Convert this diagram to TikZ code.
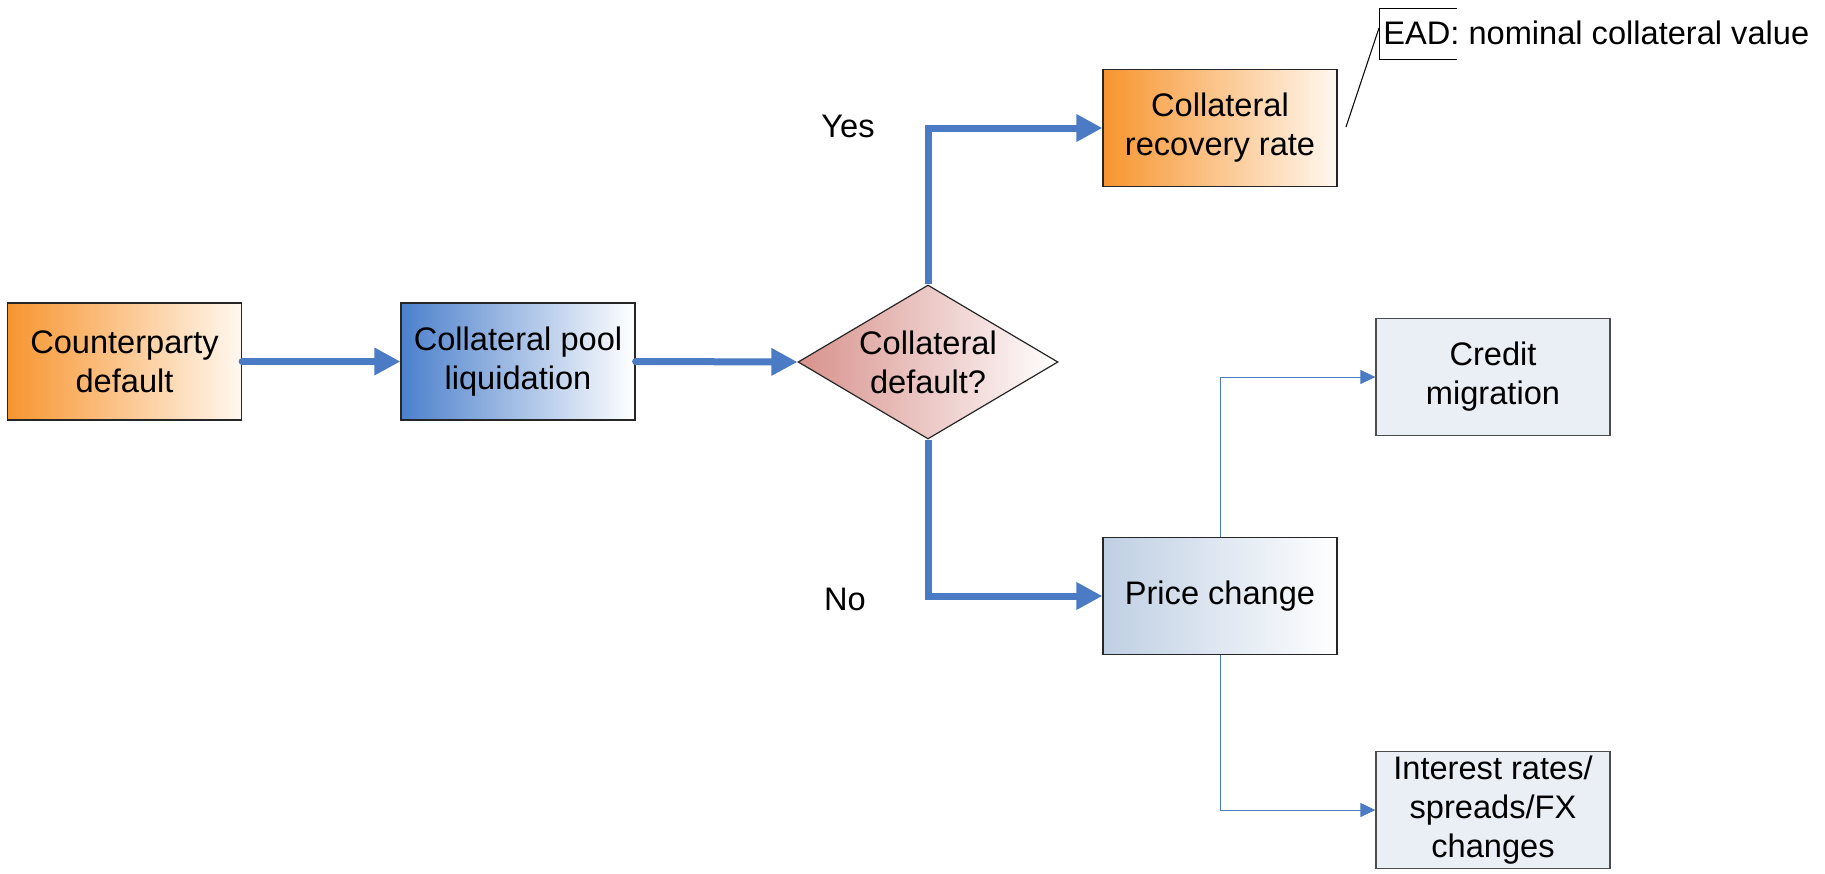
\documentclass[tikz,border=0pt]{standalone}
\usepackage{fontspec}
\setmainfont{Liberation Sans}
\usetikzlibrary{shapes.geometric,arrows.meta}
\definecolor{flowblue}{HTML}{4A7BC4}
\definecolor{orangeL}{HTML}{F7952F}
\definecolor{orangeR}{HTML}{FFF8F0}
\definecolor{poolL}{HTML}{4C80CC}
\definecolor{diamL}{HTML}{D8928C}
\definecolor{priceL}{HTML}{BFCFE3}
\definecolor{lightbox}{HTML}{EAEEF5}
\tikzset{
  boxbase/.style={rectangle, draw=black!85, line width=0.6pt, minimum width=117pt, minimum height=58.5pt, inner sep=2pt, align=center, font=\fontsize{16.3}{19.5}\selectfont},
  orangebox/.style={boxbase, left color=orangeL, right color=orangeR},
  poolbox/.style={boxbase, left color=poolL, right color=white},
  pricebox/.style={boxbase, left color=priceL, right color=white},
  flatbox/.style={boxbase, draw=black!70, fill=lightbox},
  decision/.style={diamond, draw=black!85, line width=0.6pt, left color=diamL, right color=white, minimum width=130pt, minimum height=77pt, inner sep=0pt, aspect=1.69, align=center, font=\fontsize{16.3}{19.5}\selectfont},
  thickflow/.style={draw=flowblue, line width=3.5pt, line cap=round, -{Triangle[length=13pt,width=13pt]}},
  thinflow/.style={draw=flowblue, line width=0.5pt, -{Triangle[length=7.5pt,width=7pt]}},
  lbl/.style={font=\fontsize{16.3}{19.5}\selectfont, inner sep=0pt}
}
\begin{document}
\begin{tikzpicture}[x=0.5pt,y=-0.5pt]
\useasboundingbox (0,0) rectangle (1825,873);
\node[orangebox] (cp) at (124.5,361.5) {Counterparty\\default};
\node[poolbox] (pool) at (518,361.5) {Collateral pool\\liquidation};
\node[decision] (diam) at (928,362) {Collateral\\default?};
\node[orangebox] (recov) at (1220,128) {Collateral\\recovery rate};
\node[pricebox] (price) at (1220,596) {Price change};
\node[flatbox] (credit) at (1493,377) {Credit\\migration};
\node[flatbox] (inter) at (1493,810) {Interest rates/\\spreads/FX\\changes};
\node[lbl] (yes) at (848,126) {Yes};
\node[lbl] (no) at (845,599) {No};
% callout
\node[lbl, anchor=west] (ead) at (1383,33) {EAD: nominal collateral value};
\coordinate (calA) at (1346,127);
\coordinate (calB) at (1379,28);
\draw[black, line width=0.5pt] (1457,8) -- (1379,8) -- (1379,59) -- (1457,59);
\draw[black, line width=0.5pt] (calA) -- (calB);
% connectors
\draw[thickflow] (cp.east) -- (pool.west);
\draw[thickflow] (pool.east) -- (diam.west);
\draw[thickflow, line cap=butt] (diam.north) |- (recov.west);
\draw[thickflow, line cap=butt] (diam.south) |- (price.west);
\draw[thinflow] (price.north) |- (credit.west);
\draw[thinflow] (price.south) |- (inter.west);
\end{tikzpicture}
\end{document}
